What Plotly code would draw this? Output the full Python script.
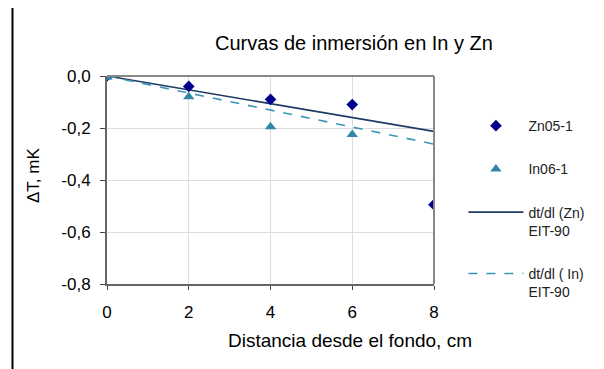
import plotly.graph_objects as go

x_pts = [0, 2, 4, 6, 8]
zn_vals = [0.0, -0.04, -0.09, -0.11, -0.495]
in_x = [0, 2, 4, 6]
in_vals = [-0.005, -0.08, -0.195, -0.225]
fit_x = [0, 8]
zn_fit = [0.0, -0.213]
in_fit = [0.0, -0.262]
x_ticks = [0, 2, 4, 6, 8]
y_ticks = [0.0, -0.2, -0.4, -0.6, -0.8]
y_tick_text = ["0,0", "-0,2", "-0,4", "-0,6", "-0,8"]

FONT = "Liberation Sans, Arial, sans-serif"

fig = go.Figure()
fig.add_trace(go.Scatter(x=fit_x, y=zn_fit, mode="lines", name="dt/dl (Zn)<br>EIT-90",
                         line=dict(color="#1F3A64", width=1.6), legendgroup="c", legendrank=3))
fig.add_trace(go.Scatter(x=fit_x, y=in_fit, mode="lines", name="dt/dl ( In)<br>EIT-90",
                         line=dict(color="#3A96B8", width=1.6, dash="dash"), legendgroup="d", legendrank=4))
fig.add_trace(go.Scatter(x=x_pts, y=zn_vals, mode="markers", name="Zn05-1",
                         marker=dict(symbol="diamond", color="#00008B", size=9), legendgroup="a", legendrank=1))
fig.add_trace(go.Scatter(x=in_x, y=in_vals, mode="markers", name="In06-1",
                         marker=dict(symbol="triangle-up", color="#3089A4", size=10), legendgroup="b", legendrank=2))

fig.update_layout(
    width=604, height=369,
    margin=dict(l=107, r=170, t=76, b=85),
    paper_bgcolor="white", plot_bgcolor="white",
    font=dict(family=FONT, size=16, color="#000000"),
    title=dict(text="Curvas de inmersión en In y Zn", x=354/604, xanchor="center",
               y=1 - 43/369, yanchor="middle", font=dict(size=20, family=FONT)),
    showlegend=True,
    legend=dict(x=1.09, y=0.836, xanchor="left", yanchor="top", font=dict(size=14, color="#222"),
                tracegroupgap=22, itemwidth=55, traceorder="grouped", valign="top",
                bgcolor="rgba(0,0,0,0)"),
    xaxis=dict(range=[0, 8], tickvals=x_ticks, showgrid=True, gridcolor="#DDDDDD", gridwidth=1,
               showline=True, linecolor="#666", linewidth=2, mirror=False,
               ticks="outside", ticklen=4, tickcolor="#444", zeroline=False,
               ticklabelstandoff=8, tickfont=dict(size=17), fixedrange=True),
    yaxis=dict(range=[-0.8, 0.0], tickvals=y_ticks, ticktext=y_tick_text, showgrid=True,
               gridcolor="#DDDDDD", gridwidth=1, showline=True, linecolor="#666", linewidth=2,
               ticks="outside", ticklen=5, tickcolor="#444", zeroline=False,
               ticklabelstandoff=6, tickfont=dict(size=17), fixedrange=True),
    shapes=[
        dict(type="line", xref="paper", yref="paper", x0=0, x1=1, y0=1, y1=1,
             line=dict(color="#888", width=2)),
        dict(type="line", xref="paper", yref="paper", x0=1, x1=1, y0=0, y1=1,
             line=dict(color="#888", width=2)),
        dict(type="line", xref="paper", yref="paper", x0=(12.5 - 107) / 327, x1=(12.5 - 107) / 327,
             y0=(284 - 8) / 208, y1=(284 - 372) / 208, line=dict(color="#000", width=2)),
    ],
    annotations=[
        dict(text="Distancia desde el fondo, cm", xref="paper", yref="paper",
             x=(350 - 107) / 327, y=(284 - 340) / 208, xanchor="center", yanchor="middle",
             showarrow=False, font=dict(size=19, family=FONT)),
        dict(text="ΔT, mK", xref="paper", yref="paper", textangle=-90,
             x=(33 - 107) / 327, y=(284 - 176) / 208, xanchor="center", yanchor="middle",
             showarrow=False, font=dict(size=17, family=FONT)),
    ],
)

fig.write_html("out.html")
